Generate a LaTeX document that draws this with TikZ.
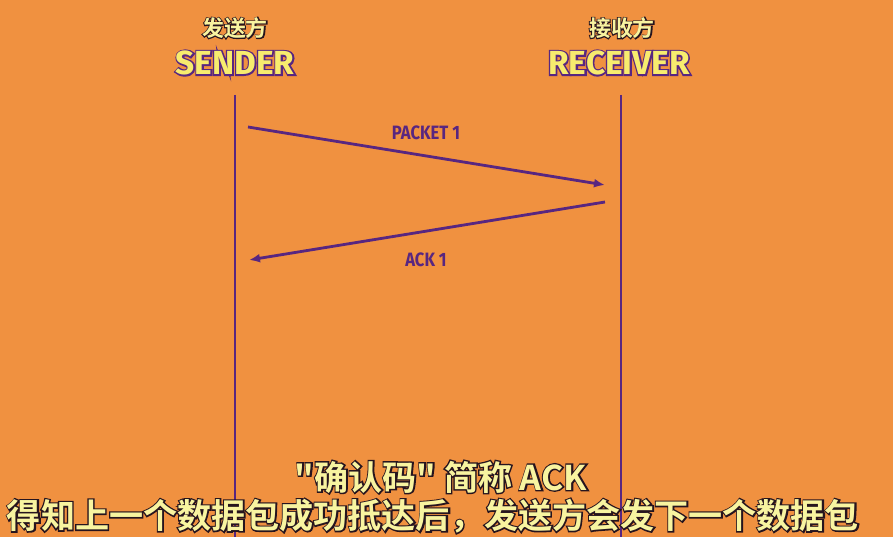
\documentclass[tikz,border=0pt]{standalone}
\usepackage{fontspec}
\setmainfont{Fira Sans}
\newfontfamily\cjkfill{Noto Sans CJK SC Bold}
\newfontfamily\cjkthick{Noto Sans CJK SC Bold}[FakeBold=8]
\newfontfamily\enfill{Fira Sans Bold}
\newfontfamily\enthick{Fira Sans Bold}[FakeBold=9]
\newfontfamily\condsans{Fira Sans}[FakeStretch=0.86]
\usepackage{tikz}
\usetikzlibrary{arrows.meta}
\usepackage{xcolor}

\definecolor{bgorange}{RGB}{240,145,64}
\definecolor{wirepurple}{RGB}{88,38,128}
\definecolor{titleyellow}{RGB}{247,236,110}
\definecolor{subyellow}{RGB}{248,244,160}
\definecolor{outlinedark}{RGB}{38,20,30}

% yellow text over a thickened dark copy (outline)
\newcommand{\subtext}[1]{%
  \makebox[0pt][l]{\cjkthick\textcolor{outlinedark}{#1}}%
  {\cjkfill\textcolor{subyellow}{#1}}}
% yellow heading over a thickened purple copy
\newcommand{\headtext}[1]{%
  \makebox[0pt][l]{\enthick\textcolor{wirepurple}{#1}}%
  {\enfill\textcolor{titleyellow}{#1}}}

\begin{document}
\begin{tikzpicture}[
        x=0.02cm, y=-0.02cm,
        lifeline/.style={
            draw=wirepurple,
            line width=1.3pt
        },
        msg/.style={
            draw=wirepurple,
            line width=1.6pt,
            -{Latex[length=2.2mm,width=1.8mm]}
        },
        msglabel/.style={
            text=wirepurple,
            font=\condsans\bfseries\fontsize{11}{13}\selectfont
        },
        cnhead/.style={
            font=\fontsize{12.5}{14}\selectfont
        },
        enhead/.style={
            font=\fontsize{19}{21}\selectfont
        },
        subtitle/.style={
            font=\fontsize{19.4}{22}\selectfont
        }
    ]

        % background
        \fill[bgorange] (0,0) rectangle (893,537);
        \useasboundingbox (0,0) rectangle (893,537);

        % headings
        \node[cnhead] (sendcn) at (235,28) {\subtext{发送方}};
        \node[enhead] (sender) at (235,63) {\headtext{SENDER}};
        \node[cnhead] (recvcn) at (622,28) {\subtext{接收方}};
        \node[enhead] (receiver) at (619,63) {\headtext{RECEIVER}};

        % lifelines
        \coordinate (stop) at (235,95);
        \coordinate (sbot) at (235,537);
        \coordinate (rtop) at (621,95);
        \coordinate (rbot) at (621,537);
        \draw[lifeline] (stop) -- (sbot);
        \draw[lifeline] (rtop) -- (rbot);

        % messages
        \coordinate (pktout) at (248,127);
        \coordinate (pktin) at (605,185);
        \coordinate (ackout) at (605,202);
        \coordinate (ackin) at (249,260);
        \draw[msg] (pktout) -- (pktin);
        \draw[msg] (ackout) -- (ackin);
        \node[msglabel] (pktlabel) at (426,133) {PACKET 1};
        \node[msglabel] (acklabel) at (426,260) {ACK 1};

        % subtitles
        \node[subtitle] (subone) at (441,477) {\subtext{"确认码" 简称 ACK}};
        \node[subtitle] (subtwo) at (433,516) {\subtext{得知上一个数据包成功抵达后，发送方会发下一个数据包}};

    \end{tikzpicture}
\end{document}
